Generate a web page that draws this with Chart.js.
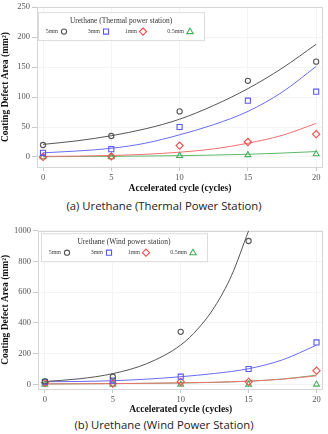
<!DOCTYPE html>
<html>
<head>
<meta charset="utf-8">
<script src="https://cdn.jsdelivr.net/npm/chart.js@4.4.1/dist/chart.umd.min.js"></script>
<style>
  html, body { margin: 0; padding: 0; background: #fff; }
  body { width: 328px; height: 434px; overflow: hidden; }
  .box { position: relative; width: 328px; }
  .cap { font-family: "Open Sans", sans-serif; font-size: 11.3px; color: #222; text-align: center; }
</style>
</head>
<body>
<div class="box" style="height:197px"><canvas id="thermal"></canvas></div>
<div class="cap" style="height:20px;line-height:18px">(a) Urethane (Thermal Power Station)</div>
<div class="box" style="height:199px"><canvas id="wind"></canvas></div>
<div class="cap" style="height:18px;line-height:18px">(b) Urethane (Wind Power Station)</div>

<script>
// data
const cycles = [0, 5, 10, 15, 20];
const xTicks = [0, 5, 10, 15, 20];
const seriesLabels = ['5mm', '3mm', '1mm', '0.5mm'];

// (a) thermal power station
const thermal5mm = [20, 35, 76, 127, 159];
const thermal3mm = [7, 13, 50, 94, 109];
const thermal1mm = [0, 1, 19, 25, 38];
const thermal05mm = [0, 0, 2, 3.5, 5];
const thermalTicks = [0, 50, 100, 150, 200, 250];

// trend curves, read at these cycles
const fitCycles = [0, 2.5, 5, 7.5, 10, 12.5, 15, 17.5, 20];
const thermalFit5mm = [21, 27, 35.5, 47, 63, 86, 114, 148, 188];
const thermalFit3mm = [7, 10, 14.5, 23, 37, 54, 76, 108, 151];
const thermalFit1mm = [1, 1.5, 2.5, 4.5, 8, 13.5, 23, 36, 56];
const thermalFit05mm = [0.5, 0.8, 1.1, 1.6, 2.2, 3.2, 4.5, 6.5, 9];

// (b) wind power station
const wind5mm = [20, 50, 342, 933, null];
const wind3mm = [17, 25, 50, 100, 273];
const wind1mm = [10, 5, 17, 17, 89];
const wind05mm = [0, 0, 0, 0, 0];
const windTicks = [0, 200, 400, 600, 800, 1000];

const windFit5mmCycles = [0, 2.5, 5, 7.5, 10, 11.25, 12.5, 13.75, 15];
const windFit5mm = [19, 36, 70, 135, 256, 360, 505, 710, 1000];
const windFit3mm = [17, 19, 24, 34, 50, 71, 102, 160, 255];
const windFit1mm = [3, 4, 5, 7, 10, 14, 21, 34, 56];
const windFit05mm = [3, 4, 5, 7, 9, 13, 21, 35, 60];

const styles = [
  { marker: 'circle', r: 2.6, color: '#555555', line: '#555555' },
  { marker: 'rect', r: 3.6, color: '#5a5af0', line: '#6b6bf2' },
  { marker: 'rectRot', r: 3.6, color: '#f04b4b', line: '#f07070' },
  { marker: 'triangle', r: 3.4, color: '#45b05a', line: '#5cb86a' }
];

const serif = '"Liberation Serif", "Times New Roman", serif';

function pts(xs, ys) {
  const out = [];
  xs.forEach((x, i) => { if (ys[i] !== null && ys[i] !== undefined) out.push({ x: x, y: ys[i] }); });
  return out;
}

function drawMarker(ctx, type, x, y, r) {
  ctx.beginPath();
  if (type === 'circle') {
    ctx.arc(x, y, r, 0, Math.PI * 2);
  } else if (type === 'rect') {
    const s = r * Math.SQRT1_2;
    ctx.rect(x - s, y - s, 2 * s, 2 * s);
  } else if (type === 'rectRot') {
    ctx.moveTo(x, y - r); ctx.lineTo(x + r, y); ctx.lineTo(x, y + r); ctx.lineTo(x - r, y); ctx.closePath();
  } else {
    ctx.moveTo(x, y - r); ctx.lineTo(x + r * 0.95, y + r * 0.6); ctx.lineTo(x - r * 0.95, y + r * 0.6); ctx.closePath();
  }
  ctx.stroke();
}

const framePlugin = {
  id: 'frame',
  beforeDatasetsDraw(chart) {
    const { ctx, chartArea: a } = chart;
    ctx.save();
    ctx.strokeStyle = '#d6d6d6';
    ctx.lineWidth = 1;
    ctx.strokeRect(Math.round(a.left) + 0.5, Math.round(a.top) + 0.5, Math.round(a.right - a.left) - 1, Math.round(a.bottom - a.top));
    ctx.restore();
  }
};

const boxLegend = {
  id: 'boxLegend',
  afterDatasetsDraw(chart, args, opts) {
    const { ctx, chartArea: a } = chart;
    const left = a.left + opts.dx, top = a.top + opts.dy, w = 166, h = 28;
    ctx.save();
    ctx.fillStyle = '#fff';
    ctx.strokeStyle = '#dcdcdc';
    ctx.lineWidth = 1;
    ctx.fillRect(left, top, w, h);
    ctx.strokeRect(left + 0.5, top + 0.5, w, h);
    ctx.fillStyle = '#333';
    ctx.textAlign = 'center';
    ctx.textBaseline = 'middle';
    ctx.font = '7.5px ' + serif;
    ctx.fillText(opts.title, left + w / 2, top + 8.5);
    const markX = [26, 68, 105, 152];
    ctx.font = '6px ' + serif;
    ctx.textAlign = 'right';
    chart.data.datasets.filter(d => !d.fit).forEach((d, i) => {
      const mx = left + markX[i], my = top + 19.5;
      ctx.fillStyle = '#444';
      ctx.fillText(d.label, mx - 6, my);
      ctx.strokeStyle = d.borderColor;
      ctx.lineWidth = 1.1;
      drawMarker(ctx, d.pointStyle, mx, my, d.pointRadius);
    });
    ctx.restore();
  }
};

function makeChart(id, cfg) {
  const markerSets = cfg.marks.map((vals, i) => ({
    label: seriesLabels[i],
    data: pts(cycles, vals),
    showLine: false,
    pointStyle: styles[i].marker,
    pointRadius: styles[i].r,
    pointHoverRadius: styles[i].r,
    borderColor: styles[i].color,
    backgroundColor: 'rgba(255,255,255,0)',
    pointBorderWidth: 1.1
  }));
  const fitSets = cfg.fits.map((f, i) => ({
    fit: true,
    data: pts(f.xs, f.ys),
    showLine: true,
    pointRadius: 0,
    borderColor: styles[i].line,
    borderWidth: 1,
    cubicInterpolationMode: 'monotone'
  }));

  return new Chart(document.getElementById(id), {
    type: 'scatter',
    data: { datasets: markerSets.concat(fitSets) },
    options: {
      responsive: true,
      maintainAspectRatio: false,
      animation: false,
      layout: { padding: { top: cfg.padTop, right: cfg.padRight, left: 0, bottom: 0 } },
      plugins: {
        legend: { display: false },
        tooltip: { enabled: false },
        boxLegend: { title: cfg.legendTitle, dx: cfg.legendDx, dy: cfg.legendDy }
      },
      scales: {
        x: {
          type: 'linear',
          min: cfg.xMin, max: 20.5,
          afterBuildTicks: s => { s.ticks = xTicks.map(v => ({ value: v })); },
          afterFit: s => { s.height = cfg.xHeight; },
          border: { display: false },
          grid: { color: '#f4f4f4', tickColor: '#c8c8c8', tickLength: 4 },
          ticks: { color: '#555', padding: 2, font: { family: serif, size: 8.5 }, callback: v => String(v) },
          title: {
            display: true, text: 'Accelerated cycle (cycles)', color: '#111',
            font: { family: serif, size: 9.5, weight: 'bold' },
            padding: { top: 0, bottom: cfg.xTitlePad }
          }
        },
        y: {
          min: cfg.yMin, max: cfg.yMax,
          afterBuildTicks: s => { s.ticks = cfg.yTicks.map(v => ({ value: v })); },
          afterFit: s => { s.width = cfg.yWidth; },
          border: { display: false },
          grid: { color: '#f4f4f4', tickColor: '#c8c8c8', tickLength: 5 },
          ticks: { color: '#555', padding: 2, font: { family: serif, size: 8.5 }, callback: v => String(v) },
          title: {
            display: true, text: 'Coating Defect Area (mm²)', color: '#111',
            font: { family: serif, size: 9.5, weight: 'bold' },
            padding: { top: 0, bottom: 3 }
          }
        }
      }
    },
    plugins: [framePlugin, boxLegend]
  });
}

makeChart('thermal', {
  marks: [thermal5mm, thermal3mm, thermal1mm, thermal05mm],
  fits: [
    { xs: fitCycles, ys: thermalFit5mm },
    { xs: fitCycles, ys: thermalFit3mm },
    { xs: fitCycles, ys: thermalFit1mm },
    { xs: fitCycles, ys: thermalFit05mm }
  ],
  yMin: -16.7, yMax: 250, yTicks: thermalTicks,
  xMin: -0.44, padTop: 7, padRight: 5, yWidth: 37, xHeight: 30, xTitlePad: 3,
  legendTitle: 'Urethane (Thermal power station)', legendDx: 1, legendDy: 5
});

makeChart('wind', {
  marks: [wind5mm, wind3mm, wind1mm, wind05mm],
  fits: [
    { xs: windFit5mmCycles, ys: windFit5mm },
    { xs: fitCycles, ys: windFit3mm },
    { xs: fitCycles, ys: windFit1mm },
    { xs: fitCycles, ys: windFit05mm }
  ],
  yMin: -30, yMax: 1000, yTicks: windTicks,
  xMin: -0.51, padTop: 13.7, padRight: 3, yWidth: 38, xHeight: 27, xTitlePad: 1,
  legendTitle: 'Urethane (Wind power station)', legendDx: 3, legendDy: 2.5
});
</script>
</body>
</html>
